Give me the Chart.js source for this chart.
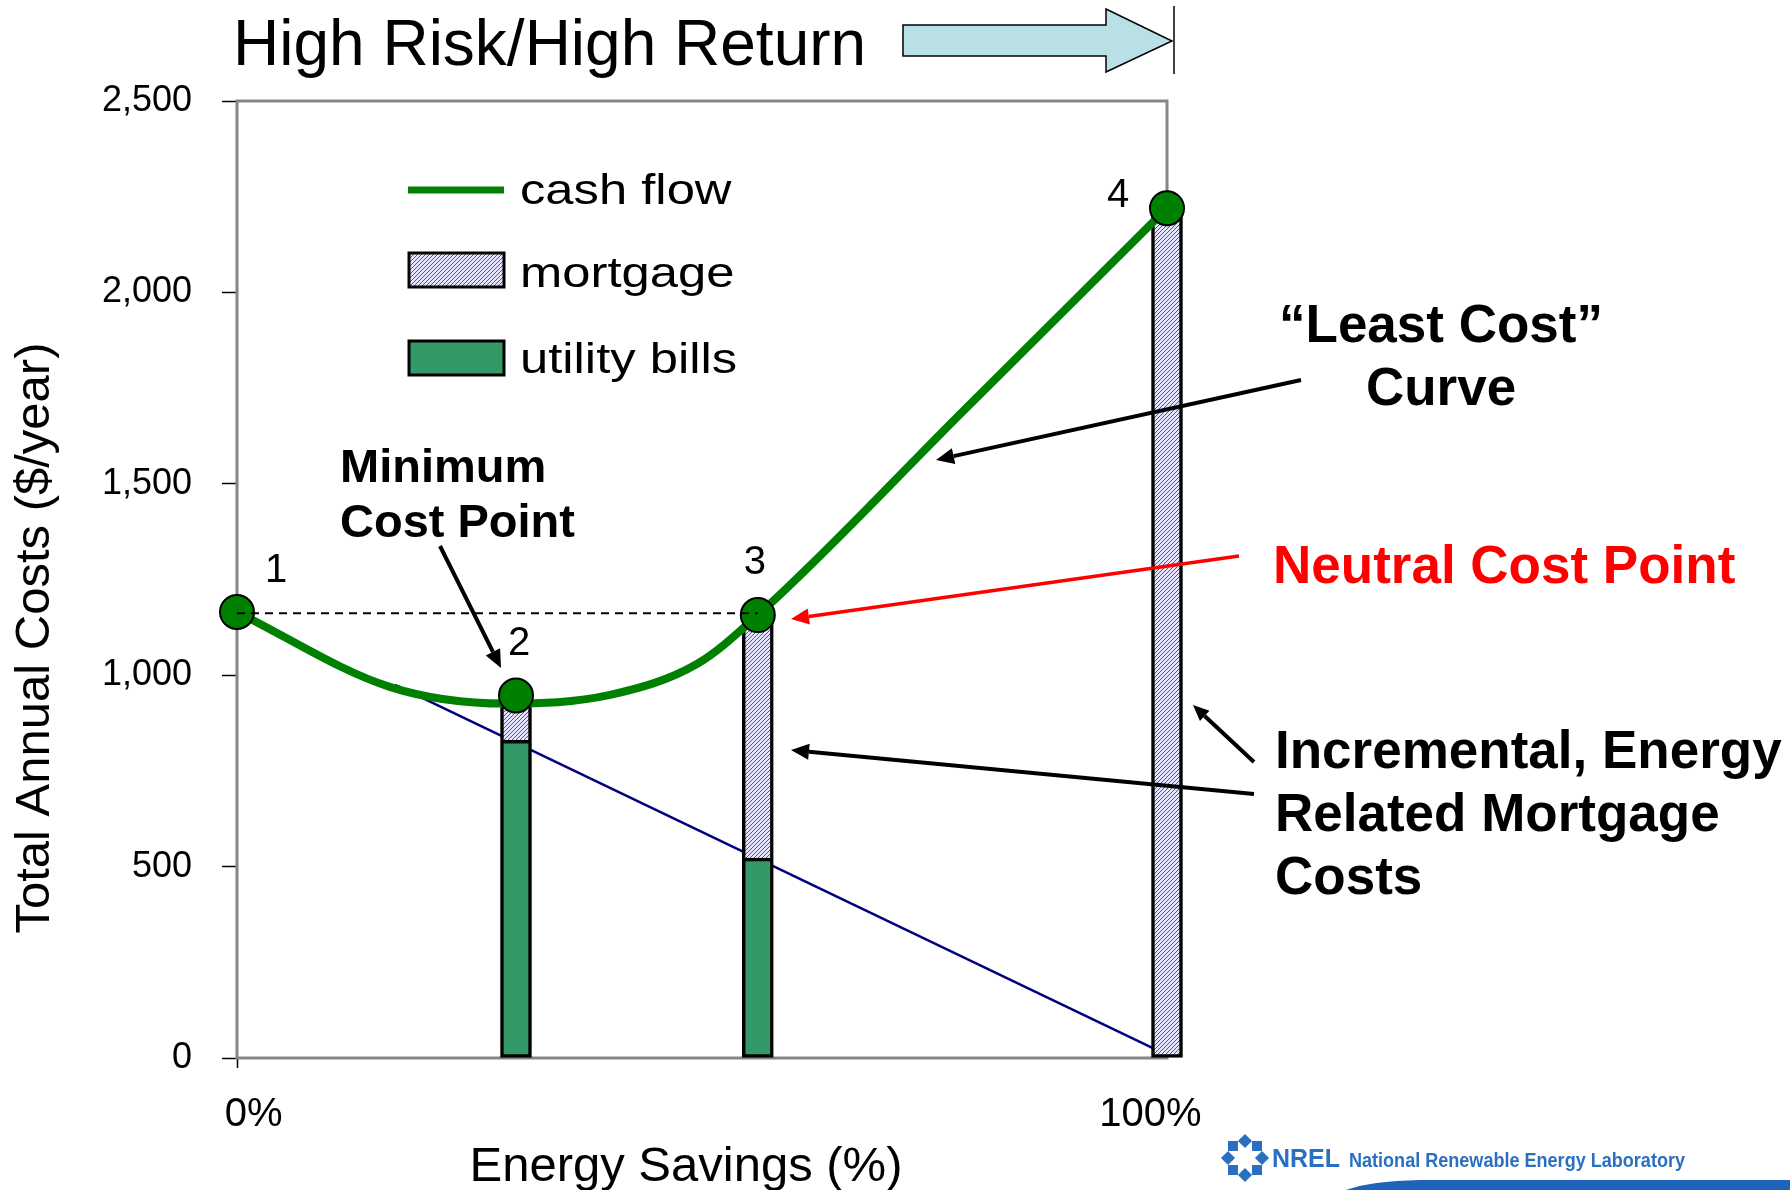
<!DOCTYPE html>
<html>
<head>
<meta charset="utf-8">
<script src="https://cdn.jsdelivr.net/npm/chart.js@4.4.0/dist/chart.umd.min.js"></script>
<style>
html,body{margin:0;padding:0;background:#fff;}
canvas{display:block;}
</style>
</head>
<body>
<canvas id="c" width="1790" height="1190"></canvas>
<script>
// ---- data ----
const barSavingsPct = [30, 56, 100];            // energy savings (%) of the three bars
const utilityBills  = [830, 522, 0];            // $/year
const mortgageCosts = [117, 635, 2220];         // incremental energy-related mortgage, $/year
const caseSavingsPct = [0, 30, 56, 100];        // numbered cases 1..4
const caseTotalCost  = [1165, 947, 1157, 2220];
const caseLabels     = ['1', '2', '3', '4'];
const cashFlowX = [0, 16.5, 28.9, 40, 49.5, 56, 78, 100];
const cashFlowY = [1165, 969, 926, 948, 1030, 1157, 1688, 2220];
const utilityTrendX = [17, 100];
const utilityTrendY = [975, 8];
const neutralX = [0, 56];
const neutralY = [1162, 1162];
const yTickValues = [0, 500, 1000, 1500, 2000, 2500];
const xTickValues = [0, 100];
const xTickLabels = ['0%', '100%'];
const seriesNames = ['cash flow', 'mortgage', 'utility bills'];

const canvas = document.getElementById('c');
const mainCtx = canvas.getContext('2d');

function makeHatch() {
  const p = document.createElement('canvas');
  p.width = 4; p.height = 4;
  const g = p.getContext('2d');
  g.fillStyle = '#e4e4ff'; g.fillRect(0, 0, 4, 4);
  g.fillStyle = '#4a4ad6';
  for (let i = 0; i < 4; i++) g.fillRect(i, 3 - i, 1, 1);
  return mainCtx.createPattern(p, 'repeat');
}
const hatch = makeHatch();

const FONT = '"Liberation Sans", Arial, sans-serif';

const frame = {
  id: 'frame',
  beforeDatasetsDraw(chart) {
    const {ctx, chartArea: a} = chart;
    ctx.save();
    ctx.strokeStyle = '#868686';
    ctx.lineWidth = 3;
    ctx.strokeRect(a.left, a.top, a.right - a.left, a.bottom - a.top);
    ctx.restore();
  }
};

const annot = {
  id: 'annot',
  afterDraw(chart) {
    const ctx = chart.ctx;
    const xs = chart.scales.x, ys = chart.scales.y;
    ctx.save();
    function text(t, x, y, font, color, align, sx) {
      ctx.save();
      ctx.font = font; ctx.fillStyle = color || '#000';
      ctx.textAlign = align || 'left'; ctx.textBaseline = 'alphabetic';
      ctx.translate(x, y);
      if (sx) ctx.scale(sx, 1);
      ctx.fillText(t, 0, 0);
      ctx.restore();
    }
    function arrow(x1, y1, x2, y2, color, w, hl, hw) {
      const a = Math.atan2(y2 - y1, x2 - x1);
      const bx = x2 - hl * Math.cos(a), by = y2 - hl * Math.sin(a);
      ctx.strokeStyle = color; ctx.lineWidth = w; ctx.lineCap = 'butt';
      ctx.beginPath(); ctx.moveTo(x1, y1); ctx.lineTo(bx, by); ctx.stroke();
      ctx.fillStyle = color;
      ctx.beginPath(); ctx.moveTo(x2, y2);
      ctx.lineTo(bx + hw * Math.sin(a), by - hw * Math.cos(a));
      ctx.lineTo(bx - hw * Math.sin(a), by + hw * Math.cos(a));
      ctx.closePath(); ctx.fill();
    }
    // chart title + block arrow
    text('High Risk/High Return', 233, 65, '64px ' + FONT, '#000', 'left');
    ctx.beginPath();
    ctx.moveTo(903, 25); ctx.lineTo(1106, 25); ctx.lineTo(1106, 9); ctx.lineTo(1172, 41);
    ctx.lineTo(1106, 72); ctx.lineTo(1106, 56); ctx.lineTo(903, 56); ctx.closePath();
    ctx.fillStyle = '#b9e0e4'; ctx.fill();
    ctx.strokeStyle = '#000'; ctx.lineWidth = 1.5; ctx.stroke();
    ctx.beginPath(); ctx.moveTo(1174, 6); ctx.lineTo(1174, 74); ctx.stroke();

    // axis titles
    ctx.save();
    ctx.translate(49, 638); ctx.rotate(-Math.PI / 2);
    ctx.font = '49px ' + FONT; ctx.fillStyle = '#000';
    ctx.textAlign = 'center'; ctx.textBaseline = 'alphabetic';
    ctx.fillText('Total Annual Costs ($/year)', 0, 0);
    ctx.restore();
    text('Energy Savings (%)', 686, 1181, '49px ' + FONT, '#000', 'center');

    // legend
    ctx.strokeStyle = '#008000'; ctx.lineWidth = 7;
    ctx.beginPath(); ctx.moveTo(408, 190); ctx.lineTo(504, 190); ctx.stroke();
    text(seriesNames[0], 520, 204, '43px ' + FONT, '#000', 'left', 1.18);
    ctx.fillStyle = hatch; ctx.fillRect(409, 253, 95, 34);
    ctx.strokeStyle = '#000'; ctx.lineWidth = 3; ctx.strokeRect(409, 253, 95, 34);
    text(seriesNames[1], 520, 287, '43px ' + FONT, '#000', 'left', 1.18);
    ctx.fillStyle = '#339966'; ctx.fillRect(409, 341, 95, 34);
    ctx.strokeRect(409, 341, 95, 34);
    text(seriesNames[2], 520, 373, '43px ' + FONT, '#000', 'left', 1.18);

    // case numbers next to markers
    const off = [[39, -30], [3, -40], [-3, -41], [-49, -1]];
    caseSavingsPct.forEach((v, i) => {
      text(caseLabels[i], xs.getPixelForValue(v) + off[i][0], ys.getPixelForValue(caseTotalCost[i]) + off[i][1],
        '40px ' + FONT, '#000', 'center');
    });

    // callouts
    const B = 'bold 47px ' + FONT;
    text('Minimum', 340, 482, B, '#000', 'left');
    text('Cost Point', 340, 537, B, '#000', 'left');
    arrow(440, 546, 501, 668, '#000', 4, 18, 8);

    const B2 = 'bold 53px ' + FONT;
    text('\u201CLeast Cost\u201D', 1441, 342, B2, '#000', 'center');
    text('Curve', 1441, 405, B2, '#000', 'center');
    arrow(1301, 380, 936, 460, '#000', 4, 18, 8);

    text('Neutral Cost Point', 1273, 583, B2, '#ff0000', 'left');
    arrow(1239, 556, 791, 619, '#ff0000', 3.5, 18, 8);

    const B3 = 'bold 53px ' + FONT;
    text('Incremental, Energy', 1275, 768, B3, '#000', 'left');
    text('Related Mortgage', 1275, 831, B3, '#000', 'left');
    text('Costs', 1275, 894, B3, '#000', 'left');
    arrow(1254, 762, 1193, 705, '#000', 4, 16, 7);
    arrow(1254, 794, 791, 750, '#000', 4, 18, 8);

    // NREL footer logo
    const blue = '#2a6fc0';
    ctx.fillStyle = blue;
    const cx = 1245, cy = 1158;
    for (let k = 0; k < 8; k++) {
      const a = k * Math.PI / 4;
      const px = cx + 17 * Math.cos(a), py = cy + 17 * Math.sin(a);
      ctx.save(); ctx.translate(px, py); ctx.rotate(a + Math.PI / 4);
      ctx.fillRect(-5, -5, 10, 10);
      ctx.restore();
    }
    ctx.save();
    ctx.font = 'bold 25px ' + FONT;
    const w1 = ctx.measureText('NREL').width;
    ctx.translate(1272, 1167); ctx.scale(68 / w1, 1);
    ctx.fillStyle = blue; ctx.fillText('NREL', 0, 0);
    ctx.restore();
    ctx.save();
    ctx.font = 'bold 21px ' + FONT;
    const w2 = ctx.measureText('National Renewable Energy Laboratory').width;
    ctx.translate(1349, 1167); ctx.scale(336 / w2, 1);
    ctx.fillStyle = blue; ctx.fillText('National Renewable Energy Laboratory', 0, 0);
    ctx.restore();
    ctx.fillStyle = '#1f63b8';
    ctx.beginPath();
    ctx.moveTo(1346, 1190);
    ctx.quadraticCurveTo(1370, 1181, 1420, 1180);
    ctx.lineTo(1790, 1180); ctx.lineTo(1790, 1190); ctx.closePath();
    ctx.fill();
    ctx.restore();
  }
};

const pts = (xa, ya) => xa.map((x, i) => ({x: x, y: ya[i]}));

new Chart(mainCtx, {
  type: 'bar',
  data: {
    datasets: [
      {
        type: 'line', label: 'neutral', data: pts(neutralX, neutralY), order: 0,
        borderColor: '#000', borderWidth: 2, borderDash: [8, 6], pointRadius: 0, fill: false
      },
      {
        type: 'line', label: 'cases', data: pts(caseSavingsPct, caseTotalCost), order: 1,
        showLine: false, pointRadius: 17, pointBackgroundColor: '#008000',
        pointBorderColor: '#000', pointBorderWidth: 2, clip: false
      },
      {
        type: 'line', label: seriesNames[0], data: pts(cashFlowX, cashFlowY), order: 2,
        borderColor: '#008000', borderWidth: 8, pointRadius: 0, fill: false,
        cubicInterpolationMode: 'monotone', clip: false
      },
      {
        label: seriesNames[2],
        data: barSavingsPct.map((x, i) => ({x: x, y: utilityBills[i] > 0 ? [0, utilityBills[i]] : null})),
        backgroundColor: '#339966', borderColor: '#000', borderWidth: 3.5, borderSkipped: false,
        barThickness: 31, grouped: false, order: 3, clip: false
      },
      {
        label: seriesNames[1],
        data: barSavingsPct.map((x, i) => ({x: x, y: [utilityBills[i], utilityBills[i] + mortgageCosts[i]]})),
        backgroundColor: hatch, borderColor: '#000', borderWidth: 3.5,
        borderSkipped: c => (utilityBills[c.dataIndex] > 0 ? 'bottom' : false),
        barThickness: 31, grouped: false, order: 3, clip: false
      },
      {
        type: 'line', label: 'utility trend', data: pts(utilityTrendX, utilityTrendY), order: 4,
        borderColor: '#000080', borderWidth: 2.5, pointRadius: 0, fill: false
      }
    ]
  },
  options: {
    responsive: false,
    devicePixelRatio: 1,
    animation: false,
    events: [],
    layout: {padding: {top: 101, right: 623, bottom: 0, left: 0}},
    plugins: {legend: {display: false}, tooltip: {enabled: false}, title: {display: false}},
    scales: {
      x: {
        type: 'linear', min: 0, max: 100, offset: false,
        afterFit: s => { s.height = 132; },
        afterBuildTicks: s => { s.ticks = xTickValues.map(v => ({value: v})); },
        grid: {
          offset: false, drawOnChartArea: false, drawTicks: true, tickLength: 10, tickWidth: 1.5,
          tickColor: c => (c.index === 0 ? '#000' : 'rgba(0,0,0,0)')
        },
        border: {display: false},
        ticks: {
          callback: (v, i) => (i === 0 ? '   ' + xTickLabels[i] : xTickLabels[i] + '   '),
          color: '#000', padding: 23, maxRotation: 0,
          autoSkip: false, font: {family: '"Liberation Sans", Arial, sans-serif', size: 40}
        }
      },
      y: {
        type: 'linear', min: 0, max: 2500,
        afterFit: s => { s.width = 237; },
        afterBuildTicks: s => { s.ticks = yTickValues.map(v => ({value: v})); },
        grid: {drawOnChartArea: false, drawTicks: true, tickLength: 15, tickWidth: 1.5, tickColor: '#000'},
        border: {display: false},
        ticks: {
          callback: v => v.toLocaleString('en-US'), color: '#000', padding: 30,
          font: {family: '"Liberation Sans", Arial, sans-serif', size: 36}
        }
      }
    }
  },
  plugins: [frame, annot]
});
</script>
</body>
</html>
